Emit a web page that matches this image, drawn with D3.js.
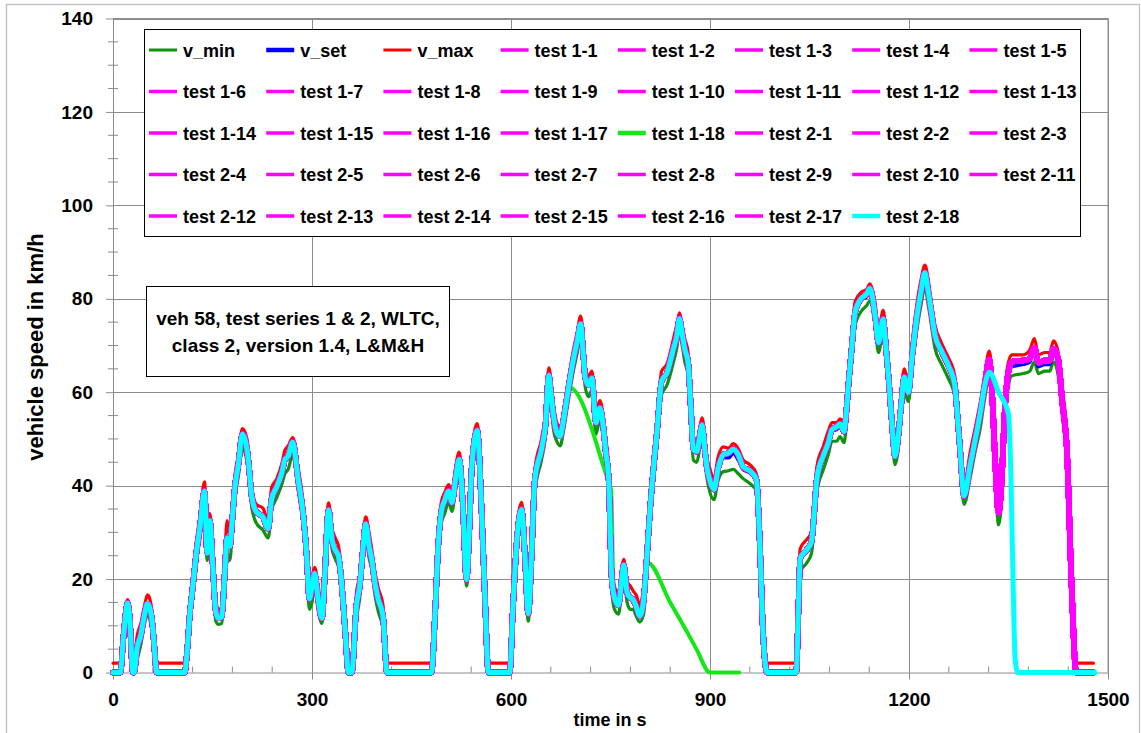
<!DOCTYPE html>
<html><head><meta charset="utf-8">
<script src="https://cdn.jsdelivr.net/npm/d3@7"></script>
<style>
body{margin:0;background:#fff;}
text{font-family:"Liberation Sans",Arial,sans-serif;font-weight:bold;fill:#000;}
</style></head><body>
<svg id="chart" width="1141" height="733"></svg>
<script>
// ---------- data ----------
const time = [0,11,16,22,25,30,32,36,42,47,52,56,59,62,66,108,112,116,120,126,131,138,142,146,150,155,159,164,168,172,176,180,184,189,195,202,205,209,216,226,234,239,247,255,259,264,271,279,287,292,296,300,304,309,315,319,325,330,336,340,345,350,355,360,367,372,376,381,386,390,395,400,407,413,480,486,490,495,500,506,511,516,522,527,533,537,541,549,556,561,566,598,603,609,616,621,626,631,636,646,652,657,660,664,669,674,679,684,694,700,705,709,712,717,722,728,734,739,743,747,752,756,762,767,770,775,780,784,789,794,800,805,810,815,820,827,835,845,850,854,858,862,867,871,875,880,884,888,892,895,900,906,912,920,928,935,943,950,960,970,975,980,986,1030,1033,1036,1046,1053,1057,1061,1071,1078,1084,1091,1096,1102,1105,1109,1114,1119,1129,1136,1141,1149,1154,1161,1165,1169,1174,1179,1184,1188,1193,1199,1205,1212,1218,1224,1228,1232,1239,1249,1259,1269,1273,1277,1283,1292,1300,1307,1314,1321,1325,1330,1335,1340,1344,1348,1355,1372,1382,1389,1395,1405,1412,1418,1425,1431,1438,1445,1452,1478];
const vSet = [0,0,8,14.6,12,0,0,5,8,12,14.5,13.5,11,6,0,0,5,12.8,18,26,31,38,25.6,32,24,13,11.4,11.7,20,28.5,27,33,40,44.5,50.6,47.8,44,37.8,34.2,33,30.5,37,39.6,43,45.3,46,48.9,41.4,33.5,25,15.6,18,21,16,11.4,20,34.2,28.5,26,24.9,18.5,9,0,0,14.2,18.5,25,31.4,27,24.2,19,15.6,12.1,0,0,14,26.4,34.2,36.5,38.5,36.4,41,45.3,37.1,19.9,30,44.2,51.4,33.5,15,0,0,14,28.5,34.6,25,12.8,25,41.4,47.8,53,63,60,55,51.4,50.6,54,58.5,67,71,74.2,68,62.8,61.3,62.8,53.5,56.4,52.8,47,42.1,19.9,16,14.2,20,22.8,17.1,16,15.6,14,12.1,15.6,25,35.6,44,51.4,62.1,63.9,69.2,72,75.3,72.5,69.2,66.4,57,47.8,47.1,50,52.8,48,44.2,41,39.2,43.5,46,46,47,45.5,43.5,42.8,41,28,8.5,0,0,12,24.2,26,27.8,34,41.4,46.3,49,51.7,52.1,52.8,51.4,55,62.1,70,77.1,79.9,80.5,81.7,76.3,70.6,75.3,70,63.5,54,46.3,50.6,57,62.8,59.9,68,76.3,81,84.9,82,78.5,72,68.5,65.6,61.3,55,47.8,37.8,44.2,50,54.9,61,66,60,45,34,42,55,62,65.5,66,66.5,69,65.5,66,66,69,66.5,58,47.8,19.2,0,0];
const vMax = [2,2,10.5,15.6,14,2,2,7.5,10.5,14,16.6,15.5,13,9,2,2,8,15,20.5,28.5,33.5,40.8,30,34,27,15.5,13.5,14,23,32.5,29.5,36,42.5,46.5,52.2,50,46.5,40,36,35.2,32.5,39.5,41.5,45,47.5,48.5,50.3,44,36,28,19,20.5,22.5,19,13.5,23,36.3,31,28.5,27,21,12,2,2,17,21,27.5,33.3,30,26.5,21.5,18,14.5,2,2,18,29.5,36.5,38.5,40.2,38.5,43.5,47.2,40,24,34,46.5,53.3,37,19,2,2,18,31.5,36.4,28.5,15,28,43.5,50,55.5,65.2,63,57.5,53.5,52.5,56,60.5,69,73,76.3,71.5,65,63.5,64.5,56,58.2,55,50,44.5,24,18.5,17,22.5,24.2,19.5,18.5,17.5,16.5,14.5,18.5,28.5,38.5,47,54,64.5,66,71.5,74.5,77,74.5,71.5,68.5,60,50,49.5,52,54.5,51,46.5,43.5,41.5,46,48.3,48,49,47.8,45.5,44.5,42.5,33,14,2,2,17,26.5,28.5,30,37,44,48.5,51.5,53.5,53.5,54.3,53.5,58,65,73,79.5,81.5,82,83.2,79,73,77.5,73,66.5,57,48.5,53,60,65,62,71,79,84,87.2,85,81,74.5,70.5,67.5,63.5,58,51,40,47,52.5,57.5,63.5,68.8,64,50,37,46,58,65,68,68,69,71.5,68,68.5,68.5,71,68.5,61,51,24,2,2];
const vMin = [0,0,5.5,12.5,10,0,0,2.5,6,10,12.5,11,9,3,0,0,2,10.5,15.5,23.5,28.5,35.5,24,29,21,11,10.3,10.5,17,25.5,24,30,37.5,42,48,45,41.5,35.5,32,30.5,28.8,34.5,37.5,40.5,42.5,43.5,46.5,39,31,22.5,13.5,15,18.5,13.5,10.5,17,31.5,26.5,24,22.5,16.5,6,0,0,11.5,16,22.5,29,24.5,22,16.5,13,9.5,0,0,10,23.5,32,34,36.5,34.5,38.5,43,35,18.5,26,41,49,31,12,0,0,10,25.5,32.5,22,11,22,38.5,45.5,50.5,60.5,58,52,49.5,48.5,51.5,56,64.5,68.5,72,65.5,61,59,60.5,51,54,50,44,39.5,17.5,13.5,12.5,17.5,20.5,15,13.5,13.5,12,10.8,12.5,22,32.5,41,48.5,59.5,61.5,66.5,69.5,73,70,66.5,63.5,54,45.5,45,47.5,50.5,45.5,42,38.5,37,41,43,43.2,43.5,42.5,41.5,40.5,38.8,24,4,0,0,8,21.5,23.5,25.5,31,38.5,43.5,46.5,49.5,49.5,50.5,49.2,52,59,67,74.5,77.5,78.5,79.5,74,68.5,72.5,67.5,61,51.5,44.5,48,54.5,60,58,65.5,73.5,78.5,82.5,79.5,76,69.5,66,63,59,52.5,45,36,41.5,47.5,52,58.5,63.5,57,42,31.6,38,51,59,63.5,64,64.5,66.5,64,64.5,64.5,66.5,63.5,55,44.5,15,0,0];
const testRuns = [0,0,8,14.8,12,0,0,5,8,12,14.7,13.5,11,6,0,0,5,12.8,18,26,31,38.8,25.6,32.5,24,13,11.6,11.9,20,28.8,27,33,40,44.5,51,47.8,44,37.8,34.4,33.3,30.8,37,39.8,43,45.5,46.3,49.3,41.4,33.5,25,15.8,18.3,21.2,16,11.6,20,34.8,28.5,26,24.9,18.5,9,0,0,14.4,18.5,25,31.8,27,24.2,19,15.6,12.1,0,0,14,26.4,34.5,36.8,38.8,36.4,41,45.6,37.1,19.9,30,44.2,51.8,33.5,15,0,0,14,28.5,34.9,25,12.6,25,41.4,47.8,53,63.6,60,55,51.4,50.6,54,58.5,67,71,74.6,68,63,61.5,63,53.5,56.6,52.8,47,42.1,19.9,16,14.4,20,23,17.1,16,15.6,14,12.1,15.6,25,35.6,44,51.4,62.3,64.1,69.4,72,75.7,72.5,69.2,66.4,57,47.8,47.3,50,53,48,44.2,41,39.2,43.5,46.6,47,47.8,46.5,44,43.2,41.3,28,8.5,0,0,12,24.4,26.3,28,34,41.4,46.5,49,52,52.6,53.2,51.6,55,62.1,70,77.3,80.2,81,82.2,76.3,70.6,75.6,70,63.5,54,46.3,50.8,57,63.2,60,68,76.3,81.4,85.6,82.4,78.8,72.3,68.8,65.8,61.5,55,47.8,37.8,44.2,50,55.2,61.3,67,60.5,45,34.2,42,55,62.5,66.5,66.8,67.2,69.5,66.3,66.8,66.8,69.3,67,58,47.8,19.2,0,0];
// test 1-18 deviations (own points), joined to test trace where it follows it
const t118DevATime = [688,744,751,754];
const t118DevASpeed = [61,42.1,39,20];
const t118DevBTime = [806,840,870,880,900,944];
const t118DevBSpeed = [23.5,15,7.5,4.9,0,0];
// test 2-18 tail
const t218TailTime = [1321,1335,1350,1354,1357,1360,1364,1480];
const t218TailSpeed = [64.3,60,55.3,40,19,3,0,0];

const legendNames = ["v_min","v_set","v_max",
 "test 1-1","test 1-2","test 1-3","test 1-4","test 1-5","test 1-6","test 1-7","test 1-8","test 1-9","test 1-10","test 1-11","test 1-12","test 1-13","test 1-14","test 1-15","test 1-16","test 1-17","test 1-18",
 "test 2-1","test 2-2","test 2-3","test 2-4","test 2-5","test 2-6","test 2-7","test 2-8","test 2-9","test 2-10","test 2-11","test 2-12","test 2-13","test 2-14","test 2-15","test 2-16","test 2-17","test 2-18"];
const xTicks = [0,300,600,900,1200,1500];
const yTicks = [0,20,40,60,80,100,120,140];
const xMinor = [60,120,180,240,360,420,480,540,660,720,780,840,960,1020,1080,1140,1260,1320,1380,1440];
const yMinor = [5,10,15,25,30,35,45,50,55,65,70,75,85,90,95,105,110,115,125,130,135];
const noteLines = ["veh 58, test series 1 & 2, WLTC,","class 2, version 1.4, L&M&H"];

// ---------- build series ----------
const zip = (ts, vs) => ts.map((t,i)=>({t, v: vs[i]}));
const runPts = zip(time, testRuns);
const test118 = runPts.filter(d=>d.t<688)
  .concat(zip(t118DevATime,t118DevASpeed))
  .concat(runPts.filter(d=>d.t>=756 && d.t<=800))
  .concat(zip(t118DevBTime,t118DevBSpeed));
const test218 = runPts.filter(d=>d.t<=1314).concat(zip(t218TailTime,t218TailSpeed));

const C = {vmin:"#0d930d", vset:"#0000ff", vmax:"#ff0000", test:"#ff00ff", t118:"#16e616", t218:"#00ffff"};
const series = legendNames.map(name=>{
  if(name==="v_min") return {name, pts: zip(time,vMin), color:C.vmin, w:3.2, lw:3};
  if(name==="v_set") return {name, pts: zip(time,vSet), color:C.vset, w:4, lw:4.5};
  if(name==="v_max") return {name, pts: zip(time,vMax), color:C.vmax, w:3.2, lw:3};
  if(name==="test 1-18") return {name, pts: test118, color:C.t118, w:4, lw:4.5};
  if(name==="test 2-18") return {name, pts: test218, color:C.t218, w:5, lw:4.5};
  return {name, pts: runPts, color:C.test, w:5.5, lw:3.5};
});

// ---------- drawing ----------
const svg = d3.select("#chart");
const x = d3.scaleLinear().domain([0,1500]).range([113,1108]);
const y = d3.scaleLinear().domain([0,140]).range([672.5,18.5]);

svg.append("rect").attr("x",6.5).attr("y",4.5).attr("width",1133).attr("height",745)
  .attr("fill","#fff").attr("stroke","#bfbfbf").attr("stroke-width",1.3);

const grid = svg.append("g").attr("stroke","#8c8c8c").attr("stroke-width",1);
grid.selectAll(".gx").data(xTicks.slice(1)).join("line")
  .attr("x1",d=>Math.round(x(d))+0.5).attr("x2",d=>Math.round(x(d))+0.5)
  .attr("y1",y(140)).attr("y2",y(0));
grid.selectAll(".gy").data(yTicks.slice(1)).join("line")
  .attr("y1",d=>Math.round(y(d))+0.5).attr("y2",d=>Math.round(y(d))+0.5)
  .attr("x1",x(0)).attr("x2",x(1500));

// axes
const yAxis = d3.axisLeft(y).tickValues(yTicks).tickFormat(d3.format("d")).tickSize(7).tickSizeOuter(0).tickPadding(13);
const gy = svg.append("g").attr("transform",`translate(${x(0)},0)`).call(yAxis);
const xAxis = d3.axisBottom(x).tickValues(xTicks).tickFormat(d3.format("d")).tickSize(7).tickSizeOuter(0).tickPadding(13);
const gx = svg.append("g").attr("transform",`translate(0,${y(0)})`).call(xAxis);
[gx,gy].forEach(g=>{
  g.selectAll("path").attr("stroke","#8c8c8c");
  g.selectAll("line").attr("stroke","#8c8c8c");
  g.selectAll("text").style("font-size","19px").style("font-family",'"Liberation Sans",Arial,sans-serif').style("font-weight","bold").attr("fill","#000");
});
svg.append("g").attr("stroke","#8c8c8c").selectAll("line").data(yMinor).join("line")
  .attr("x1",x(0)-5).attr("x2",x(0)+5).attr("y1",d=>y(d)).attr("y2",d=>y(d));
svg.append("g").attr("stroke","#8c8c8c").selectAll("line").data(xMinor).join("line")
  .attr("x1",d=>x(d)).attr("x2",d=>x(d)).attr("y1",y(0)-6).attr("y2",y(0));
// top & right frame
svg.append("path").attr("d",`M${x(0)},${y(140)}H${x(1500)}V${y(0)}`).attr("fill","none").attr("stroke","#8c8c8c");

// axis titles
svg.append("text").attr("x",610).attr("y",726).attr("text-anchor","middle").style("font-size","18px").text("time in s");
svg.append("text").attr("transform","translate(43,347) rotate(-90)").attr("text-anchor","middle").style("font-size","22px").text("vehicle speed in km/h");

// lines
const line = d3.line().x(d=>x(d.t)).y(d=>y(d.v)).curve(d3.curveMonotoneX);
svg.append("g").attr("fill","none").attr("stroke-linejoin","round").attr("stroke-linecap","round")
  .selectAll("path").data(series).join("path")
  .attr("d",d=>line(d.pts)).attr("stroke",d=>d.color).attr("stroke-width",d=>d.w);

// legend
const lg = svg.append("g");
lg.append("rect").attr("x",144.5).attr("y",29.5).attr("width",936).attr("height",207)
  .attr("fill","#fff").attr("stroke","#000").attr("stroke-width",1);
const items = lg.selectAll("g.item").data(series).join("g")
  .attr("transform",(d,i)=>`translate(${149 + (i%8)*117.2},${50 + Math.floor(i/8)*41.5})`);
items.append("line").attr("x1",0).attr("x2",28).attr("y1",0).attr("y2",0)
  .attr("stroke",d=>d.color).attr("stroke-width",d=>d.lw);
items.append("text").attr("x",34).attr("y",6.5).style("font-size","18px").text(d=>d.name);

// annotation box
const nb = svg.append("g");
nb.append("rect").attr("x",146.5).attr("y",286.5).attr("width",303).attr("height",90)
  .attr("fill","#fff").attr("stroke","#000");
nb.selectAll("text").data(noteLines).join("text")
  .attr("x",298).attr("y",(d,i)=>325 + i*26.5).attr("text-anchor","middle").style("font-size","19px").text(d=>d);
</script>
</body></html>
